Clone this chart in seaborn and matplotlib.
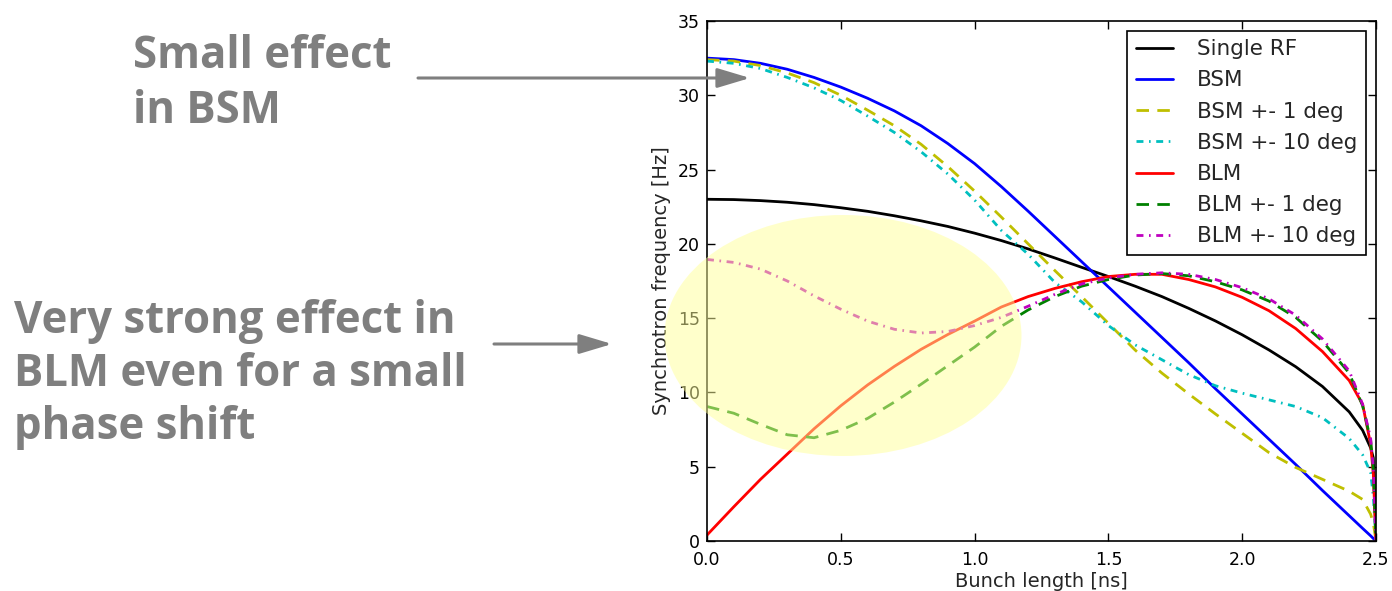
import matplotlib
matplotlib.use('Agg')
import matplotlib.pyplot as plt
from matplotlib.patches import Ellipse, FancyArrowPatch
import seaborn as sns

# bunch length [ns]
bunch_length = [0.0, 0.1, 0.2, 0.3, 0.4, 0.5, 0.6, 0.7, 0.8, 0.9, 1.0, 1.1, 1.2, 1.3, 1.4,
                1.5, 1.6, 1.7, 1.8, 1.9, 2.0, 2.1, 2.2, 2.3, 2.4, 2.45, 2.48, 2.49, 2.5]

# synchrotron frequency [Hz] per case
single_rf = [23.0, 22.98, 22.91, 22.8, 22.64, 22.43, 22.19, 21.89, 21.55, 21.17, 20.72, 20.22, 19.66, 19.05, 18.42,
             17.8, 17.15, 16.45, 15.66, 14.81, 13.88, 12.86, 11.73, 10.4, 8.69, 7.45, 6.27, 5.6, 0.0]
bsm = [32.5, 32.4, 32.15, 31.75, 31.2, 30.55, 29.8, 28.95, 27.95, 26.75, 25.4, 23.85, 22.2, 20.5, 18.8,
       17.1, 15.4, 13.7, 12.0, 10.25, 8.55, 6.85, 5.15, 3.4, 1.7, 0.85, 0.35, 0.17, 0.0]
bsm_1deg = [32.4, 32.3, 32.0, 31.5, 30.85, 30.0, 29.0, 27.95, 26.7, 25.2, 23.55, 21.8, 20.0, 18.2, 16.45,
            14.65, 12.85, 11.3, 9.9, 8.55, 7.25, 5.95, 4.95, 4.15, 3.35, 2.8, 1.8, 1.2, 0.0]
bsm_10deg = [32.3, 32.15, 31.8, 31.2, 30.5, 29.65, 28.6, 27.5, 26.2, 24.7, 22.95, 20.9, 19.3, 17.4, 16.1,
             14.5, 13.2, 12.2, 11.2, 10.45, 9.95, 9.5, 9.05, 8.3, 6.9, 5.8, 4.6, 3.0, 0.0]
blm = [0.4, 2.3, 4.15, 5.85, 7.55, 9.1, 10.5, 11.75, 12.9, 13.9, 14.8, 15.75, 16.45, 17.0, 17.45,
       17.8, 17.95, 17.95, 17.6, 17.1, 16.4, 15.5, 14.3, 12.75, 10.8, 9.2, 6.5, 4.5, 0.0]
blm_1deg = [9.05, 8.6, 7.85, 7.15, 6.95, 7.45, 8.25, 9.35, 10.55, 11.8, 13.05, 14.45, 15.55, 16.45, 17.15,
            17.6, 17.9, 18.0, 17.85, 17.45, 16.9, 16.15, 15.05, 13.45, 11.3, 9.1, 6.8, 4.8, 0.0]
blm_10deg = [18.95, 18.75, 18.3, 17.5, 16.5, 15.6, 14.8, 14.25, 14.0, 14.1, 14.5, 15.05, 15.8, 16.6, 17.3,
             17.7, 17.95, 18.05, 17.95, 17.6, 17.05, 16.3, 15.2, 13.6, 11.45, 9.2, 6.9, 4.9, 0.0]

labels = ['Single RF', 'BSM', 'BSM +- 1 deg', 'BSM +- 10 deg', 'BLM', 'BLM +- 1 deg', 'BLM +- 10 deg']
series = [single_rf, bsm, bsm_1deg, bsm_10deg, blm, blm_1deg, blm_10deg]
colors = ['k', 'b', 'y', 'c', 'r', 'g', 'm']
dashed = (0, (4.5, 3))
dashdot = (0, (2.5, 2, 0.6, 2))
styles = ['-', '-', dashed, dashdot, '-', dashed, dashdot]

sns.set_style('white')
plt.rcParams['font.family'] = ['DejaVu Sans']

fig = plt.figure(figsize=(13.92, 5.91), dpi=100)
ax = fig.add_axes([0.5079, 0.0846, 0.4806, 0.8799])

for vals, lab, c, ls in zip(series, labels, colors, styles):
    sns.lineplot(x=bunch_length, y=vals, ax=ax, color=c, linestyle=ls, lw=2, label=lab)

ax.set_xlim(0, 2.5)
ax.set_ylim(0, 35)
ax.set_xticks([0.0, 0.5, 1.0, 1.5, 2.0, 2.5])
ax.set_xlabel('Bunch length [ns]', fontsize=14, labelpad=2)
ax.set_ylabel('Synchrotron frequency [Hz]', fontsize=14, labelpad=5)
ax.tick_params(direction='in', top=True, right=True, bottom=True, left=True,
               length=6, width=1, labelsize=12.5, colors='black', pad=5)
ax.tick_params(axis='x', pad=7)
for sp in ax.spines.values():
    sp.set_color('black')
    sp.set_linewidth(1.2)

leg = ax.legend(loc='upper right', fontsize=15.5, frameon=True, fancybox=False,
                framealpha=1, edgecolor='black', handlelength=1.7,
                handletextpad=1.15, labelspacing=0.52, borderpad=0.4, borderaxespad=0.45)
leg.get_frame().set_linewidth(1.2)

# highlight region
W, H = 1392.0, 591.0
ell = Ellipse((843 / W, 1 - 335.5 / H), 357 / W, 241 / H, transform=fig.transFigure,
              facecolor=(1, 1, 0.6), alpha=0.5, edgecolor='none', zorder=10)
fig.add_artist(ell)

# annotations
grey = '#7f7f7f'
txt = dict(fontsize=31.5, fontweight='bold', color=grey, family=['Open Sans', 'DejaVu Sans'],
           va='baseline', ha='left', transform=fig.transFigure)
fig.text(133 / W, 1 - 68 / H, 'Small effect', **txt)
fig.text(133 / W, 1 - 123 / H, 'in BSM', **txt)
fig.text(14 / W, 1 - 333 / H, 'Very strong effect in', **txt)
fig.text(14 / W, 1 - 386 / H, 'BLM even for a small', **txt)
fig.text(14 / W, 1 - 439 / H, 'phase shift', **txt)

for x0, x1, yy in [(418, 750, 78), (494, 612, 344)]:
    arr = FancyArrowPatch((x0 / W, 1 - yy / H), (x1 / W, 1 - yy / H), transform=fig.transFigure,
                          arrowstyle='-|>,head_length=1.0,head_width=0.3', mutation_scale=20,
                          color=grey, lw=2.2, shrinkA=0, shrinkB=0)
    fig.add_artist(arr)

fig.savefig('out.png', dpi=100)
